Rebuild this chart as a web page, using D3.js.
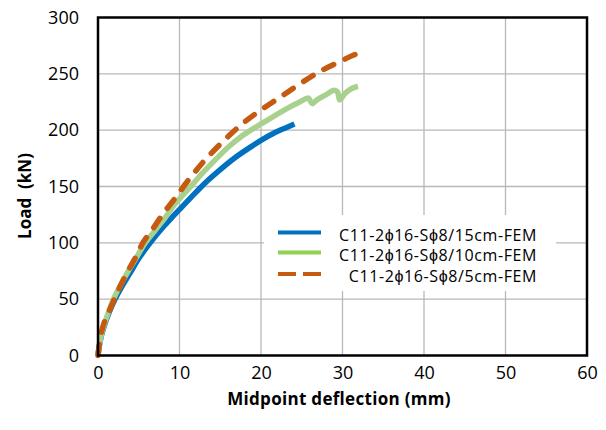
<!DOCTYPE html>
<html>
<head>
<meta charset="utf-8">
<script src="https://cdn.jsdelivr.net/npm/d3@7"></script>
<style>
  html, body { margin: 0; padding: 0; background: #fff; }
  svg { display: block; }
  text { font-family: "Open Sans", "Liberation Sans", sans-serif; fill: #000; }
</style>
</head>
<body>
<svg id="chart" width="606" height="430"></svg>
<script>
// Load–deflection curves from the FE models (deflection in mm, load in kN)
const seriesNames = [
  "C11-2ϕ16-Sϕ8/15cm-FEM",
  "C11-2ϕ16-Sϕ8/10cm-FEM",
  "C11-2ϕ16-Sϕ8/5cm-FEM"
];

const s15Deflection = [0, 0.15, 0.4, 0.8, 1.3, 2.1, 3, 4, 5, 6.4, 8, 9, 10.25, 11.5, 12.5, 13.5, 15, 16.8, 18.5, 20, 21.5, 23, 24.1];
const s15Load       = [0, 8, 17, 27, 37, 50, 62, 74, 86, 100, 114, 122, 131.5, 141, 148.5, 155.5, 165, 175.5, 184, 191, 197, 202, 205.5];

const s10Deflection = [0, 0.15, 0.4, 0.8, 1.3, 1.9, 2.8, 3.8, 4.8, 5.8, 7, 8.2, 9.4, 10, 11.5, 12.7, 14.3, 16, 17.5, 19.2, 20, 21.5, 23, 24.75, 25.8, 26.3, 26.8, 28, 29, 29.4, 29.65, 30.3, 31, 31.9];
const s10Load       = [0, 8, 18, 28, 39, 50, 63, 76, 88, 100, 111, 122, 134, 139, 151, 161, 173, 185, 194, 202, 205.5, 212, 218.5, 225, 228.5, 223.5, 226.5, 231.5, 235.5, 234, 227, 232.5, 236.5, 239];

const s5Deflection  = [0, 0.15, 0.4, 0.8, 1.47, 2, 2.7, 3.6, 4.6, 5.5, 6.5, 8, 9.5, 10.5, 12.7, 15.2, 17.6, 20, 22.3, 24.75, 27.2, 30, 31.3, 32.7];
const s5Load        = [0, 9, 20, 30, 41, 50, 61, 74, 87, 100, 110, 126, 140, 150, 170, 189, 205, 218, 229, 241, 252, 262, 266.5, 269.5];

const xTicks = [0, 10, 20, 30, 40, 50, 60];
const yTicks = [0, 50, 100, 150, 200, 250, 300];

const xTitle = "Midpoint deflection (mm)";
const yTitle = "Load\u00a0\u00a0(kN)";

const zip = (xs, ys) => xs.map((x, i) => ({ x, y: ys[i] }));
const series = [
  { name: seriesNames[0], values: zip(s15Deflection, s15Load), color: "#0070C0", legendColor: "#0070C0", dash: null },
  { name: seriesNames[1], values: zip(s10Deflection, s10Load), color: "#A9D18E", legendColor: "#92D050", dash: null },
  { name: seriesNames[2], values: zip(s5Deflection, s5Load),  color: "#C55A11", legendColor: "#C55A11", dash: "11,12.5" }
];

const svg = d3.select("#chart");
const plot = { left: 98, right: 587, top: 17.5, bottom: 355.5 };

const x = d3.scaleLinear().domain([0, 60]).range([plot.left, plot.right]);
const y = d3.scaleLinear().domain([0, 300]).range([plot.bottom, plot.top]);

// gridlines
const grid = svg.append("g").attr("stroke", "#b8b8b8").attr("stroke-width", 1.3);
grid.selectAll("line.v").data(xTicks.slice(1, -1)).join("line")
  .attr("x1", d => x(d)).attr("x2", d => x(d))
  .attr("y1", plot.top).attr("y2", plot.bottom);
grid.selectAll("line.h").data(yTicks.slice(1, -1)).join("line")
  .attr("x1", plot.left).attr("x2", plot.right)
  .attr("y1", d => y(d)).attr("y2", d => y(d));

// axes (labels only, no tick marks)
const xAxis = svg.append("g")
  .attr("transform", `translate(0,${plot.bottom})`)
  .call(d3.axisBottom(x).tickValues(xTicks).tickSize(0).tickPadding(11));
const yAxis = svg.append("g")
  .attr("transform", `translate(${plot.left},0)`)
  .call(d3.axisLeft(y).tickValues(yTicks).tickSize(0).tickPadding(19));
[xAxis, yAxis].forEach(a => {
  a.select(".domain").remove();
  a.selectAll("text").attr("font-size", 18).attr("font-family", "'Open Sans', sans-serif").attr("fill", "#000");
});

// curves
const line = d3.line().x(d => x(d.x)).y(d => y(d.y)).curve(d3.curveMonotoneX);
svg.append("g").selectAll("path").data(series).join("path")
  .attr("d", d => line(d.values))
  .attr("fill", "none")
  .attr("stroke", d => d.color)
  .attr("stroke-width", 5.5)
  .attr("stroke-linecap", d => d.dash ? "round" : "butt")
  .attr("stroke-linejoin", "round")
  .attr("stroke-dasharray", d => d.dash);

// plot frame
svg.append("rect")
  .attr("x", plot.left).attr("y", plot.top)
  .attr("width", plot.right - plot.left).attr("height", plot.bottom - plot.top)
  .attr("fill", "none").attr("stroke", "#000").attr("stroke-width", 2.5);

// legend
const legend = svg.append("g");
legend.append("rect")
  .attr("x", 264).attr("y", 215).attr("width", 292).attr("height", 76)
  .attr("fill", "#fff");
const rowY = [232.5, 252.5, 274];
const items = legend.selectAll("g.item").data(series).join("g").attr("class", "item");
items.append("line")
  .attr("x1", 278).attr("x2", 321)
  .attr("y1", (d, i) => rowY[i]).attr("y2", (d, i) => rowY[i])
  .attr("stroke", d => d.legendColor)
  .attr("stroke-width", 4)
  .attr("stroke-dasharray", d => d.dash ? "18,7" : null);
items.append("text")
  .attr("x", 537)
  .attr("y", (d, i) => rowY[i] + 8)
  .attr("text-anchor", "end")
  .attr("font-size", 16)
  .attr("letter-spacing", 0.6)
  .text(d => d.name);

// axis titles
svg.append("text")
  .attr("x", 339).attr("y", 405)
  .attr("text-anchor", "middle")
  .attr("font-size", 17).attr("font-weight", "bold")
  .attr("letter-spacing", 0.3)
  .text(xTitle);
svg.append("text")
  .attr("transform", "translate(31,196) rotate(-90)")
  .attr("text-anchor", "middle")
  .attr("font-size", 17).attr("font-weight", "bold")
  .text(yTitle);
</script>
</body>
</html>
